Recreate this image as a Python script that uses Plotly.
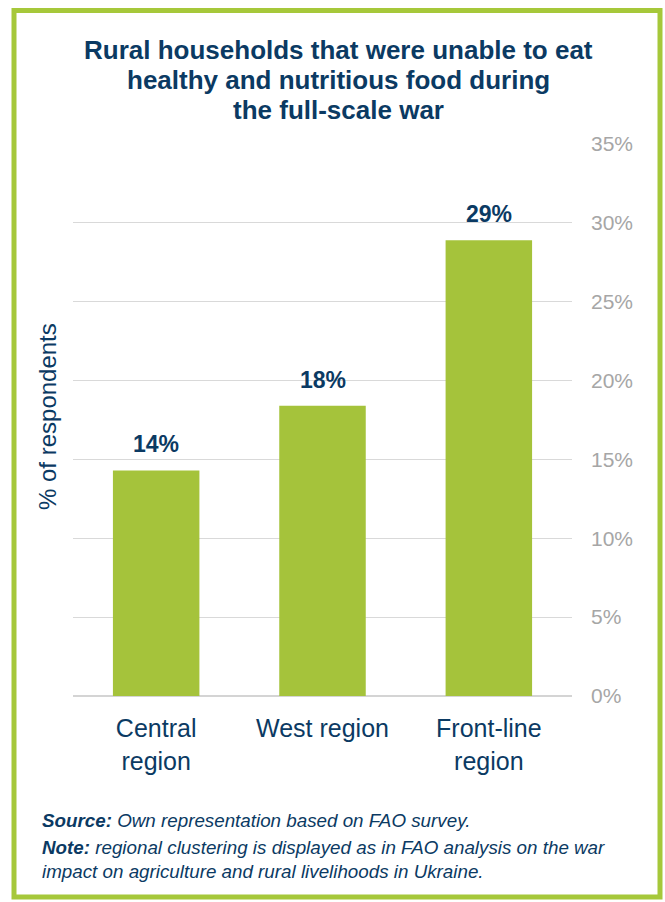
import plotly.graph_objects as go

categories = ["Central<br>region", "West region", "Front-line<br>region"]
values = [14.3, 18.4, 28.9]
value_labels = ["14%", "18%", "29%"]
y_ticks = [0, 5, 10, 15, 20, 25, 30, 35]
y_tick_labels = ["0%", "5%", "10%", "15%", "20%", "25%", "30%", "35%"]

title_lines = ["Rural households that were unable to eat",
               "healthy and nutritious food during",
               "the full-scale war"]
source_text = "<b>Source:</b> Own representation based on FAO survey."
note_lines = ["<b>Note:</b> regional clustering is displayed as in FAO analysis on the war",
              "impact on agriculture and rural livelihoods in Ukraine."]

W, H = 665, 902
L, R, T, B = 73, 93, 144, 206
PW, PH = W - L - R, H - T - B

def px_x(px):
    return (px - L) / PW

def px_y(py):
    return (H - B - py) / PH

NAVY = "#0B3A63"
GREEN = "#A5C33B"
GREY = "#A6A6A6"
FONT = "Liberation Sans, Arial, sans-serif"

fig = go.Figure()
fig.add_trace(go.Bar(x=categories, y=values, marker=dict(color=GREEN, line=dict(width=0)),
                     hoverinfo="skip"))

annotations = []
for c, v, lab in zip(categories, values, value_labels):
    annotations.append(dict(x=c, y=v, xref="x", yref="y", text=f"<b>{lab}</b>",
                            showarrow=False, yanchor="middle", yshift=26,
                            font=dict(family=FONT, size=23, color=NAVY)))

for i, line in enumerate(title_lines):
    annotations.append(dict(x=px_x(338), y=px_y(50 + 30 * i), xref="paper", yref="paper",
                            text=f"<b>{line}</b>", showarrow=False,
                            xanchor="center", yanchor="middle",
                            font=dict(family=FONT, size=26, color=NAVY)))

annotations.append(dict(x=px_x(47), y=px_y(417), xref="paper", yref="paper",
                        text="% of respondents", textangle=-90, showarrow=False,
                        xanchor="center", yanchor="middle",
                        font=dict(family=FONT, size=24, color=NAVY)))

annotations.append(dict(x=px_x(40), y=px_y(820), xref="paper", yref="paper",
                        text=f"<i>{source_text}</i>", showarrow=False,
                        xanchor="left", yanchor="middle",
                        font=dict(family=FONT, size=18.8, color=NAVY)))
for i, line in enumerate(note_lines):
    annotations.append(dict(x=px_x(40), y=px_y(847 + 24 * i), xref="paper", yref="paper",
                            text=f"<i>{line}</i>", showarrow=False,
                            xanchor="left", yanchor="middle",
                            font=dict(family=FONT, size=18.8, color=NAVY)))

fig.update_layout(
    width=W, height=H,
    margin=dict(l=L, r=R, t=T, b=B, autoexpand=False),
    paper_bgcolor="white", plot_bgcolor="white",
    showlegend=False, bargap=0.48,
    annotations=annotations,
    shapes=[dict(type="rect", xref="paper", yref="paper",
                 x0=px_x(14), x1=px_x(660), y0=px_y(10.5), y1=px_y(897),
                 line=dict(color="#A6C83A", width=5), fillcolor="rgba(0,0,0,0)",
                 layer="below")],
    xaxis=dict(showgrid=False, zeroline=False, showline=False,
               ticks="outside", ticklen=10, tickcolor="rgba(0,0,0,0)",
               tickfont=dict(family=FONT, size=25, color=NAVY)),
    yaxis=dict(range=[0, 35], side="right", tickvals=y_ticks, ticktext=y_tick_labels,
               showgrid=True, gridcolor="#D9D9D9", gridwidth=1,
               zeroline=True, zerolinecolor="#D4D4D4", zerolinewidth=2,
               showline=False, ticks="", ticklabelstandoff=18,
               tickfont=dict(family=FONT, size=21, color=GREY)),
)

fig.write_html("out.html", config={"displayModeBar": False},
               post_script="document.body.style.margin='0';document.body.style.overflow='hidden';")
